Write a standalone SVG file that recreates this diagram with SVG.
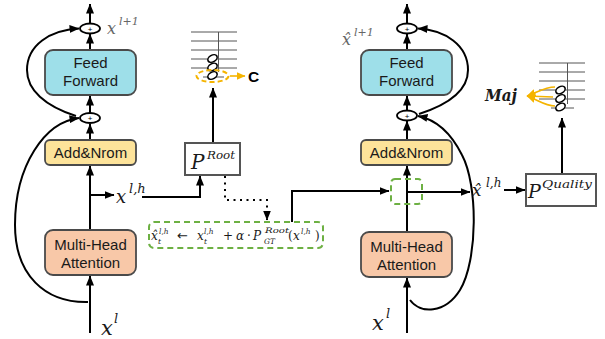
<svg xmlns="http://www.w3.org/2000/svg" width="605" height="339" viewBox="0 0 605 339">
<defs>
<marker id="ah" markerWidth="10" markerHeight="8" refX="9.5" refY="4" orient="auto" markerUnits="userSpaceOnUse"><path d="M0,0 L10,4 L0,8 Z" fill="#000"/></marker>
<marker id="oh" markerWidth="9" markerHeight="8" refX="8.5" refY="4" orient="auto" markerUnits="userSpaceOnUse"><path d="M0,0 L9,4 L0,8 Z" fill="#f5b400"/></marker>
<style>
.box{stroke:#4a4a4a;stroke-width:1.8}
.ff{fill:#9edfe9}
.an{fill:#fde39a}
.mh{fill:#f8c8a8}
.bt{font-family:'Liberation Sans',Arial,sans-serif;font-size:15px;fill:#1a1a1a;text-anchor:middle}
.ln{fill:none;stroke:#000;stroke-width:2}
.m{font-family:'DejaVu Serif',serif;font-style:italic;fill:#1a1a1a}
.g{fill:#666}
.circ{fill:#fff;stroke:#000;stroke-width:1.8}
.pl{font-family:'Liberation Sans',Arial,sans-serif;font-size:8px;text-anchor:middle;fill:#000}
.st{stroke:#555;stroke-width:1}
.note{fill:#fff;stroke:#000;stroke-width:1.6}
.grn{fill:none;stroke:#6db043;stroke-width:2;stroke-dasharray:6 4}
.org{fill:none;stroke:#f5b400;stroke-width:1.6}
.pb{fill:#fff;stroke:#555;stroke-width:2}
</style>
</defs>

<g id="connectors">
  <line class="ln" x1="90" y1="23" x2="90" y2="4" marker-end="url(#ah)"/>
  <line class="ln" x1="90" y1="50" x2="90" y2="34" marker-end="url(#ah)"/>
  <line class="ln" x1="90" y1="113" x2="90" y2="96" marker-end="url(#ah)"/>
  <line class="ln" x1="90" y1="140" x2="90" y2="124" marker-end="url(#ah)"/>
  <line class="ln" x1="90" y1="230" x2="90" y2="166" marker-end="url(#ah)"/>
  <line class="ln" x1="90" y1="195" x2="114" y2="195" marker-end="url(#ah)"/>
  <line class="ln" x1="90" y1="333" x2="90" y2="276" marker-end="url(#ah)"/>
  <path class="ln" d="M76,116 C45,106 27,90 27,70 C27,45 50,30 79,28.5" marker-end="url(#ah)"/>
  <path class="ln" d="M88,302 C45,303 15,275 15,225 C15,165 45,122 79,118" marker-end="url(#ah)"/>
  <polyline class="ln" points="142,197 200,197 200,176" marker-end="url(#ah)"/>
  <line class="ln" x1="213" y1="143" x2="213" y2="88" marker-end="url(#ah)"/>
  <polyline class="ln" points="225,176 225,200 267,200 267,220" stroke-dasharray="2 4.5" marker-end="url(#ah)"/>
  <polyline class="ln" points="292,222 292,191 389,191" marker-end="url(#ah)"/>
  <line class="ln" x1="407" y1="23" x2="407" y2="4" marker-end="url(#ah)"/>
  <line class="ln" x1="407" y1="50" x2="407" y2="34" marker-end="url(#ah)"/>
  <line class="ln" x1="407" y1="110" x2="407" y2="96" marker-end="url(#ah)"/>
  <line class="ln" x1="407" y1="140" x2="407" y2="121" marker-end="url(#ah)"/>
  <line class="ln" x1="407" y1="232" x2="407" y2="166" marker-end="url(#ah)"/>
  <line class="ln" x1="407" y1="192" x2="470" y2="192" marker-end="url(#ah)"/>
  <line class="ln" x1="504" y1="190" x2="525" y2="190" marker-end="url(#ah)"/>
  <line class="ln" x1="562" y1="174" x2="562" y2="118" marker-end="url(#ah)"/>
  <line class="ln" x1="407" y1="333" x2="407" y2="278" marker-end="url(#ah)"/>
  <path class="ln" d="M419,114 C450,104 468,90 468,70 C468,45 445,30 418,28.5" marker-end="url(#ah)"/>
  <path class="ln" d="M410,300 C420,314 445,314 460,290 C478,260 478,185 462,155 C452,135 438,120 418,116" marker-end="url(#ah)"/>
</g>

<g id="circle-left-top"><ellipse class="circ" cx="90" cy="28.5" rx="10" ry="5"/><text class="pl" x="90" y="31.5">+</text></g>
<g id="circle-left-mid"><ellipse class="circ" cx="90" cy="118" rx="10" ry="5"/><text class="pl" x="90" y="121">+</text></g>
<g id="circle-right-top"><ellipse class="circ" cx="407" cy="28.5" rx="10" ry="5"/><text class="pl" x="407" y="31.5">+</text></g>
<g id="circle-right-mid"><ellipse class="circ" cx="407" cy="115.5" rx="10" ry="5"/><text class="pl" x="407" y="118.5">+</text></g>

<g id="ff-left"><rect class="box ff" x="45" y="50" width="91" height="45" rx="8"/><text class="bt" x="90.5" y="68">Feed</text><text class="bt" x="90.5" y="86">Forward</text></g>
<g id="add-left"><rect class="box an" x="45" y="140" width="91" height="25" rx="5"/><text class="bt" x="90.5" y="158">Add&amp;Nrom</text></g>
<g id="mha-left"><rect class="box mh" x="45" y="230" width="91" height="45" rx="8"/><text class="bt" x="90.5" y="250">Multi-Head</text><text class="bt" x="90.5" y="268">Attention</text></g>

<g id="ff-right"><rect class="box ff" x="361" y="50" width="91" height="45" rx="8"/><text class="bt" x="406.5" y="68">Feed</text><text class="bt" x="406.5" y="86">Forward</text></g>
<g id="add-right"><rect class="box an" x="361" y="140" width="91" height="25" rx="5"/><text class="bt" x="406.5" y="158">Add&amp;Nrom</text></g>
<g id="mha-right"><rect class="box mh" x="361" y="232" width="91" height="45" rx="8"/><text class="bt" x="406.5" y="252">Multi-Head</text><text class="bt" x="406.5" y="270">Attention</text></g>

<g id="p-root"><rect class="pb" x="185" y="143" width="55" height="32"/>
<text class="m" x="191" y="169" font-size="20">P<tspan x="207" y="159" font-size="11.5" textLength="28" lengthAdjust="spacingAndGlyphs">Root</tspan></text></g>

<g id="p-quality"><rect class="pb" x="526" y="174" width="70" height="32"/>
<text class="m" x="528" y="198" font-size="19">P<tspan x="542" y="188" font-size="11.5" textLength="50" lengthAdjust="spacingAndGlyphs">Quality</tspan></text></g>

<g id="green-box"><rect class="grn" x="149" y="222" width="174" height="26" rx="5"/>
<text class="m" font-size="12"><tspan x="151" y="240">x̂</tspan><tspan x="159" y="234" font-size="7.5">l,h</tspan><tspan x="158" y="244" font-size="7.5">t</tspan><tspan x="177" y="240" font-style="normal" font-family="DejaVu Sans, sans-serif" font-size="13">←</tspan><tspan x="197" y="240">x</tspan><tspan x="204" y="234" font-size="7.5">l,h</tspan><tspan x="204" y="244" font-size="7.5">t</tspan><tspan x="223" y="240" font-style="normal">+</tspan><tspan x="236" y="240">α</tspan><tspan x="247" y="240" font-style="normal">·</tspan><tspan x="253" y="240">P</tspan><tspan x="265" y="233" font-size="7.5" textLength="24" lengthAdjust="spacingAndGlyphs">Root</tspan><tspan x="264" y="244" font-size="7.5">GT</tspan><tspan x="288" y="240" font-style="normal">(</tspan><tspan x="293" y="240">x</tspan><tspan x="301" y="234" font-size="7.5">l,h</tspan><tspan x="315" y="240" font-style="normal">)</tspan></text></g>

<g id="green-small"><rect class="grn" x="391" y="179" width="31" height="25" rx="4"/></g>

<g id="staff-left">
  <line class="st" x1="191" y1="32" x2="237" y2="32"/>
  <line class="st" x1="191" y1="41" x2="237" y2="41"/>
  <line class="st" x1="191" y1="50" x2="237" y2="50"/>
  <line class="st" x1="191" y1="59" x2="237" y2="59"/>
  <line class="st" x1="191" y1="68" x2="237" y2="68"/>
  <line class="st" x1="203" y1="77" x2="224" y2="77"/>
  <line class="st" x1="218.5" y1="32" x2="218.5" y2="72"/>
  <ellipse class="note" cx="212.5" cy="58.5" rx="5" ry="3.3" transform="rotate(-30 212.5 58.5)"/>
  <ellipse class="note" cx="212.5" cy="67" rx="5" ry="3.3" transform="rotate(-30 212.5 67)"/>
  <ellipse class="note" cx="212.5" cy="75.5" rx="5" ry="3.3" transform="rotate(-30 212.5 75.5)"/>
  <ellipse cx="212.5" cy="76" rx="16" ry="6" fill="none" stroke="#f5b400" stroke-width="2" stroke-dasharray="5 3"/>
  <line class="org" x1="230" y1="76" x2="245" y2="76" marker-end="url(#oh)"/>
  <text x="248" y="81.5" font-family="Liberation Sans, Arial, sans-serif" font-weight="bold" font-size="15.5" fill="#000">C</text>
</g>

<g id="staff-right">
  <line class="st" x1="539" y1="63" x2="585" y2="63"/>
  <line class="st" x1="539" y1="72" x2="585" y2="72"/>
  <line class="st" x1="539" y1="81" x2="585" y2="81"/>
  <line class="st" x1="539" y1="90" x2="585" y2="90"/>
  <line class="st" x1="539" y1="99" x2="585" y2="99"/>
  <line class="st" x1="551" y1="108" x2="574" y2="108"/>
  <line class="st" x1="567.5" y1="63" x2="567.5" y2="104"/>
  <ellipse class="note" cx="560.5" cy="90" rx="5" ry="3.3" transform="rotate(-30 560.5 90)"/>
  <ellipse class="note" cx="560.5" cy="98.5" rx="5" ry="3.3" transform="rotate(-30 560.5 98.5)"/>
  <ellipse class="note" cx="560.5" cy="107" rx="5" ry="3.3" transform="rotate(-30 560.5 107)"/>
  <path class="org" d="M555,87 C545,87 538,92 527,96" marker-end="url(#oh)"/>
  <path class="org" d="M553,97 L527,96" marker-end="url(#oh)"/>
  <path class="org" d="M555,106 C545,106 538,100 527,96" marker-end="url(#oh)"/>
  <text class="m" x="485" y="101" font-size="16" font-weight="bold" textLength="32" lengthAdjust="spacingAndGlyphs">Maj</text>
</g>

<g id="labels">
  <text class="m g" x="107" y="34" font-size="16">x<tspan x="119" y="25" font-size="11">l+1</tspan></text>
  <text class="m g" x="342" y="45" font-size="16">x̂<tspan x="354" y="36" font-size="11">l+1</tspan></text>
  <text class="m" x="116" y="203" font-size="18">x<tspan x="129" y="193" font-size="13">l,h</tspan></text>
  <text class="m" x="472" y="196" font-size="17">x̂<tspan x="486" y="187" font-size="12">l,h</tspan></text>
  <text class="m" x="101" y="335" font-size="21">x<tspan x="114" y="323" font-size="13">l</tspan></text>
  <text class="m" x="372" y="330" font-size="21">x<tspan x="386" y="318" font-size="13">l</tspan></text>
</g>
</svg>
